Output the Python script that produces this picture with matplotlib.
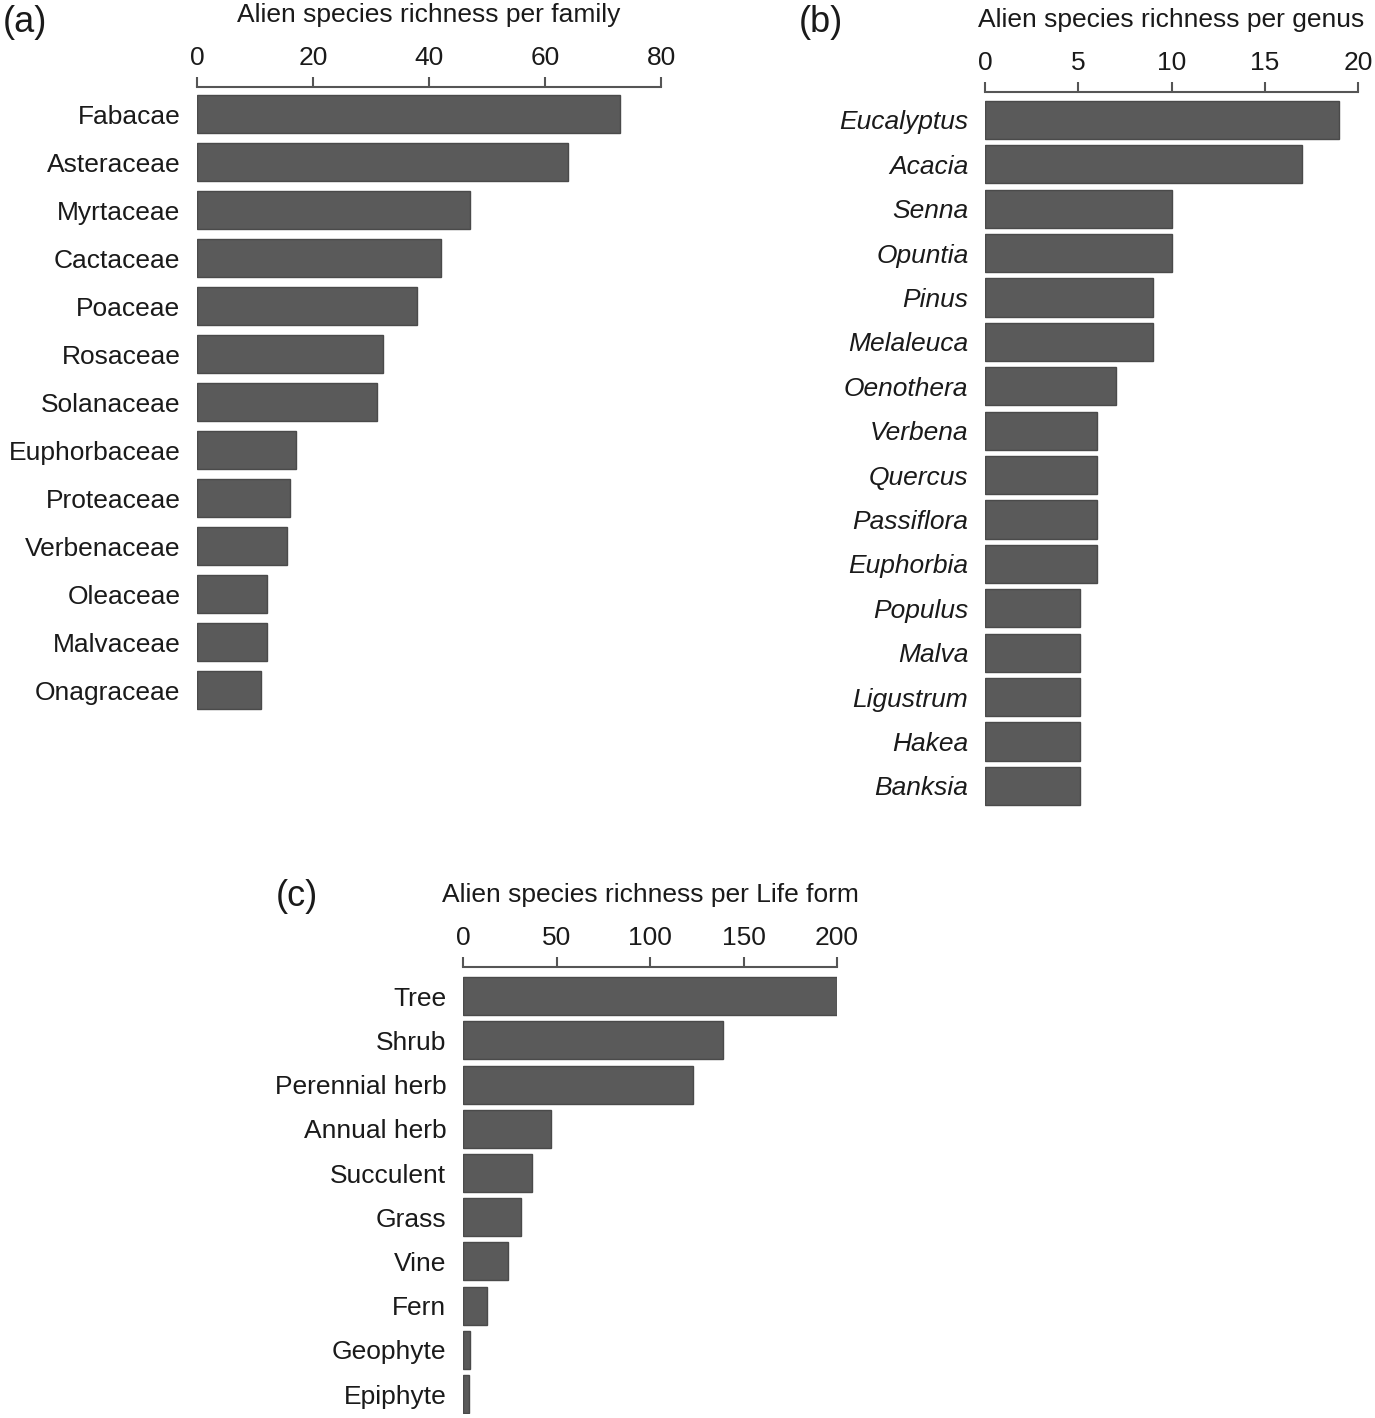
import matplotlib.pyplot as plt

plt.rcParams['font.family'] = ['Liberation Sans', 'DejaVu Sans']

# (a) families
families = ['Fabacae', 'Asteraceae', 'Myrtaceae', 'Cactaceae', 'Poaceae', 'Rosaceae',
            'Solanaceae', 'Euphorbaceae', 'Proteaceae', 'Verbenaceae', 'Oleaceae',
            'Malvaceae', 'Onagraceae']
family_counts = [73, 64, 47, 42, 38, 32, 31, 17, 16, 15.5, 12, 12, 11]

# (b) genera
genera = ['Eucalyptus', 'Acacia', 'Senna', 'Opuntia', 'Pinus', 'Melaleuca', 'Oenothera',
          'Verbena', 'Quercus', 'Passiflora', 'Euphorbia', 'Populus', 'Malva',
          'Ligustrum', 'Hakea', 'Banksia']
genus_counts = [19, 17, 10, 10, 9, 9, 7, 6, 6, 6, 6, 5.1, 5.1, 5.1, 5.1, 5.1]

# (c) life forms
life_forms = ['Tree', 'Shrub', 'Perennial herb', 'Annual herb', 'Succulent', 'Grass',
              'Vine', 'Fern', 'Geophyte', 'Epiphyte']
life_counts = [200, 139, 123, 47, 37, 31, 24, 13, 4, 3]

W, H = 1375, 1418
fig = plt.figure(figsize=(W / 100, H / 100), dpi=100)

bar_col = '#5a5a5a'
edge_col = '#4a4a4a'
line_col = '#555555'
txt_col = '#1a1a1a'
fs = 19


def panel(rect, labels, vals, xmax, step, xlabel, bar_h, ylim, italic=False):
    l, t, r, b = rect
    ax = fig.add_axes([l / W, 1 - b / H, (r - l) / W, (b - t) / H])
    ys = list(range(len(labels)))
    ax.barh(ys, vals, height=bar_h, color=bar_col, edgecolor=edge_col, linewidth=1)
    ax.set_xlim(0, xmax)
    ax.set_ylim(*ylim)
    ax.set_xticks(list(range(0, xmax + 1, step)))
    ax.xaxis.tick_top()
    ax.xaxis.set_label_position('top')
    for s in ['bottom', 'left', 'right']:
        ax.spines[s].set_visible(False)
    ax.spines['top'].set_color(line_col)
    ax.spines['top'].set_linewidth(1.5)
    ax.tick_params(axis='x', direction='out', length=7.5, width=1.5, color=line_col,
                   labelsize=fs, labelcolor=txt_col, pad=5)
    ax.set_yticks(ys)
    ax.set_yticklabels(labels, fontsize=fs, color=txt_col,
                       fontstyle='italic' if italic else 'normal')
    ax.tick_params(axis='y', length=0, pad=12)
    ax.set_xlabel(xlabel, fontsize=fs, color=txt_col, labelpad=17)
    return ax


panel((197, 87, 661, 714), families, family_counts, 80, 20,
      'Alien species richness per family', 0.79, (12.5, -0.57))
panel((985, 92, 1358, 808), genera, genus_counts, 20, 5,
      'Alien species richness per genus', 0.86, (15.5, -0.63), italic=True)
panel((463, 967, 837, 1414), life_forms, life_counts, 200, 50,
      'Alien species richness per Life form', 0.86, (9.45, -0.66))

fig.text(25 / W, 1 - 22 / H, '(a)', fontsize=26, color=txt_col, ha='center', va='center')
fig.text(821 / W, 1 - 22 / H, '(b)', fontsize=26, color=txt_col, ha='center', va='center')
fig.text(297 / W, 1 - 897 / H, '(c)', fontsize=26, color=txt_col, ha='center', va='center')

fig.savefig('out.png', dpi=100, facecolor='white')
